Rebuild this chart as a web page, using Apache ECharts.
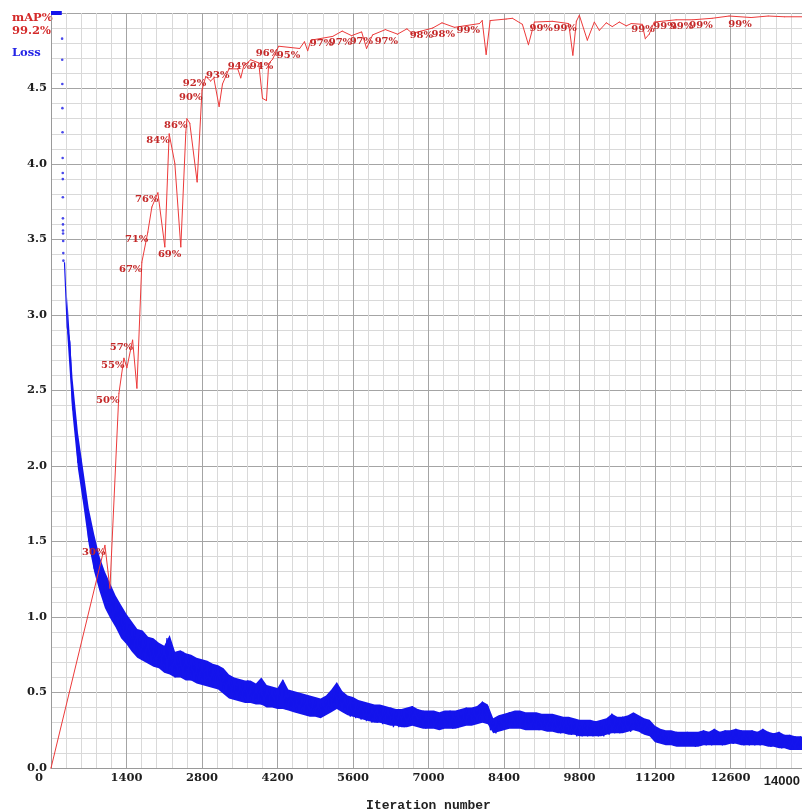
<!DOCTYPE html>
<html><head><meta charset="utf-8">
<script src="https://cdn.jsdelivr.net/npm/echarts@6.0.0/dist/echarts.min.js"></script>
<style>html,body{margin:0;padding:0;background:#fff;overflow:hidden}#c{width:802px;height:810px}</style>
</head><body><div id="c"></div>
<script>
// ---- data ----
const xMin = 0, xMax = 14000, xStep = 1400;
const yMin = 0, yMax = 5, yStep = 0.5;
const lastMap = '99.2%';

// mAP (%) checkpoints
const mapIter = [0,1000,1093,1259,1352,1407,1513,1593,1685,1796,1870,1982,2111,2191,2296,2407,2500,2520,2574,2710,2800,2870,2960,3019,3117,3180,3300,3463,3519,3574,3704,3852,3921,3995,4037,4111,4222,4611,4700,4760,4820,5223,5400,5574,5760,5852,5963,6200,6426,6600,6700,7075,7250,7482,7945,7995,8069,8143,8439,8556,8741,8853,8964,9297,9600,9677,9742,9797,9945,10075,10168,10297,10408,10538,10668,10760,10964,11020,11093,11186,11593,11900,12260,12575,12983,13300,13600,14000];
const mapVal = [0,29.5,23.8,49.6,54.3,53.0,56.7,50.3,67.0,71.0,74.3,76.2,69.0,84.0,80.1,69.0,84.2,86.0,85.4,77.6,89.8,91.6,91.0,91.4,87.6,90.6,92.6,92.6,91.4,93.0,93.8,93.4,88.7,88.4,93.3,93.9,95.6,95.3,96.2,95.0,96.4,96.9,97.6,97.0,97.5,95.3,97.1,97.8,97.2,97.9,97.3,98.0,98.7,98.1,98.6,99.0,94.5,99.0,99.2,99.3,98.5,95.8,98.8,98.9,98.6,94.4,98.9,99.7,96.4,98.8,97.7,98.7,98.2,98.8,98.3,98.6,98.5,96.6,97.2,98.8,99.1,99.1,99.3,99.6,99.4,99.6,99.5,99.5];
const mapLabels = ['','30%','','50%','55%','','57%','','67%','71%','','76%','','84%','','69%','','86%','','','90%','92%','','','','','93%','','','','94%','','','','','94%','96%','95%','','','','97%','','97%','','','97%','','97%','','','98%','','98%','99%','','','','','','','','','99%','','','99%','','','','','','','','','','','','','99%','99%','99%','99%','','99%','','',''];

// loss: clamped start, sparse early points
const lossTopIter = [0, 200];
const lossTopVal = [5, 5];
const lossEarlyIter = [206,208,210,212,214,216,218,219,220,221,222,223,224,226,228,230];
const lossEarlyVal = [4.83,4.69,4.53,4.37,4.21,4.04,3.94,3.90,3.78,3.64,3.60,3.56,3.54,3.49,3.41,3.36];

// loss band envelope, every 100 iterations from 300
const bandStart = 300, bandStep = 100;
const lossHi = [3.12,2.58,2.22,1.97,1.72,1.55,1.40,1.30,1.22,1.14,1.08,1.02,0.97,0.92,0.91,0.87,0.86,0.83,0.81,0.88,
 0.77,0.78,0.76,0.75,0.73,0.72,0.71,0.69,0.68,0.66,0.62,0.60,0.59,0.58,0.58,0.56,0.60,0.55,0.54,0.53,
 0.59,0.52,0.51,0.50,0.49,0.48,0.47,0.46,0.48,0.52,0.57,0.51,0.48,0.47,0.45,0.44,0.43,0.42,0.42,0.41,
 0.40,0.39,0.39,0.40,0.41,0.39,0.38,0.38,0.38,0.37,0.38,0.38,0.38,0.39,0.40,0.40,0.41,0.44,0.42,0.33,
 0.35,0.36,0.37,0.38,0.38,0.37,0.37,0.37,0.36,0.36,0.36,0.35,0.34,0.34,0.33,0.32,0.32,0.32,0.31,0.32,
 0.33,0.36,0.34,0.34,0.35,0.37,0.35,0.33,0.32,0.28,0.26,0.25,0.25,0.24,0.24,0.24,0.24,0.24,0.25,0.24,
 0.26,0.24,0.25,0.25,0.26,0.25,0.25,0.25,0.24,0.26,0.24,0.23,0.24,0.22,0.22,0.21,0.21,0.20];
const lossLo = [2.88,2.34,1.98,1.74,1.48,1.30,1.17,1.06,0.99,0.93,0.86,0.82,0.77,0.73,0.71,0.69,0.67,0.66,0.63,0.62,
 0.60,0.60,0.58,0.58,0.56,0.55,0.54,0.53,0.52,0.49,0.46,0.45,0.44,0.43,0.43,0.42,0.42,0.40,0.40,0.39,
 0.39,0.38,0.37,0.36,0.35,0.34,0.34,0.33,0.35,0.37,0.39,0.37,0.35,0.34,0.33,0.32,0.31,0.30,0.30,0.29,
 0.28,0.28,0.27,0.27,0.28,0.27,0.26,0.26,0.26,0.25,0.26,0.26,0.26,0.27,0.28,0.28,0.29,0.30,0.29,0.23,
 0.24,0.25,0.26,0.26,0.26,0.25,0.25,0.25,0.25,0.24,0.24,0.23,0.23,0.22,0.22,0.21,0.21,0.21,0.21,0.21,
 0.22,0.23,0.23,0.23,0.24,0.25,0.24,0.22,0.21,0.17,0.16,0.15,0.15,0.14,0.14,0.14,0.14,0.14,0.15,0.15,
 0.15,0.15,0.15,0.16,0.16,0.15,0.15,0.15,0.15,0.15,0.14,0.14,0.13,0.13,0.12,0.12,0.12,0.12];

// loss noise readings every 50 iterations from 250
const lossStart = 250, lossStep = 50;
const lossVals = [
 3.35,2.92,2.82,2.38,2.33,2.02,2.05,1.78,1.80,1.50,1.55,1.32,1.45,1.20,1.32,1.10,
 1.22,1.02,1.13,0.96,1.08,0.88,1.01,0.84,0.95,0.78,0.91,0.74,0.88,0.72,0.86,0.70,0.84,0.69,0.82,0.67,
 0.80,0.64,0.86,0.63,0.76,0.60,0.74,0.61,0.77,0.60,0.73,0.58,0.72,0.57,0.70,0.56,0.69,0.55,0.68,0.54,
 0.66,0.54,0.66,0.52,0.62,0.48,0.58,0.46,0.57,0.45,0.56,0.44,0.58,0.44,0.55,0.43,0.54,0.42,0.56,0.41,
 0.53,0.41,0.52,0.40,0.51,0.58,0.39,0.50,0.38,0.49,0.37,0.48,0.37,0.47,0.35,0.46,0.35,0.45,0.34,0.43,
 0.35,0.46,0.38,0.50,0.40,0.55,0.40,0.49,0.37,0.46,0.34,0.45,0.33,0.44,0.32,0.43,0.31,0.42,0.30,0.41,
 0.30,0.41,0.29,0.40,0.29,0.40,0.27,0.38,0.27,0.38,0.27,0.39,0.28,0.41,0.28,0.39,0.27,0.38,0.26,0.37,
 0.27,0.37,0.26,0.36,0.26,0.37,0.27,0.38,0.26,0.37,0.27,0.38,0.28,0.40,0.29,0.39,0.30,0.40,0.31,0.44,
 0.32,0.41,0.25,0.31,0.23,0.33,0.25,0.35,0.26,0.37,0.27,0.36,0.27,0.37,0.26,0.36,0.26,0.35,0.26,0.36,
 0.25,0.34,0.25,0.35,0.25,0.34,0.24,0.33,0.23,0.33,0.23,0.32,0.22,0.31,0.21,0.31,0.21,0.30,0.21,0.30,
 0.21,0.31,0.21,0.30,0.21,0.32,0.22,0.36,0.23,0.33,0.23,0.34,0.24,0.33,0.24,0.36,0.25,0.34,0.23,0.32,
 0.22,0.31,0.21,0.27,0.17,0.25,0.16,0.24,0.16,0.24,0.15,0.24,0.15,0.23,0.15,0.24,0.15,0.23,0.14,0.23,
 0.15,0.25,0.15,0.24,0.15,0.26,0.16,0.24,0.15,0.25,0.16,0.24,0.16,0.26,0.16,0.25,0.15,0.24,0.15,0.25,
 0.15,0.24,0.15,0.26,0.15,0.24,0.14,0.23,0.14,0.24,0.13,0.22,0.13,0.22,0.12,0.21,0.12,0.21,0.12,0.19
];

// ---- build ----
const blue = '#1414ec';
const lossData = lossVals.map((v, i) => [lossStart + i * lossStep, v]);
const bandIter = lossHi.map((v, i) => bandStart + i * bandStep);
const mapData = mapIter.map((x, i) => ({
  value: [x, mapVal[i]],
  label: { show: mapLabels[i] !== '', formatter: mapLabels[i] }
}));

const labelFont = { fontFamily: 'DejaVu Serif', fontWeight: 'bold', fontSize: 11.5, color: '#1e1e1e' };

const chart = echarts.init(document.getElementById('c'), null, { renderer: 'canvas' });
chart.setOption({
  animation: false,
  backgroundColor: '#ffffff',
  grid: { left: 51, top: 13, width: 755, bottom: 42, containLabel: false, outerBoundsMode: 'none' },
  xAxis: {
    type: 'value', min: xMin, max: xMax, interval: xStep,
    name: 'Iteration number', nameLocation: 'middle', nameGap: 31,
    nameTextStyle: { fontFamily: 'Liberation Mono', fontWeight: 'bold', fontSize: 13, color: '#222' },
    axisLine: { show: true, lineStyle: { color: '#9a9a9a', width: 1 } },
    axisTick: { show: false },
    minorTick: { show: false, splitNumber: 5 },
    splitLine: { show: true, lineStyle: { color: '#a4a4a4', width: 1 } },
    minorSplitLine: { show: true, lineStyle: { color: '#d9d9d9', width: 1 } },
    axisLabel: Object.assign({}, labelFont, {
      margin: 4, alignMinLabel: 'right', alignMaxLabel: 'right',
      formatter: v => v === xMax ? '{m|' + v + '}' : (v === xMin ? '{z|' + v + '}' : String(v)),
      rich: {
        m: { fontFamily: 'Liberation Sans', fontWeight: 'bold', fontSize: 13, color: '#1e1e1e', padding: [3, 6, 0, 0] },
        z: { fontFamily: 'DejaVu Serif', fontWeight: 'bold', fontSize: 11.5, color: '#1e1e1e', padding: [0, 8, 0, 0] }
      }
    })
  },
  yAxis: [{
    type: 'value', min: yMin, max: yMax, interval: yStep,
    axisLine: { show: true, lineStyle: { color: '#9a9a9a', width: 1 } },
    axisTick: { show: false },
    minorTick: { show: false, splitNumber: 5 },
    splitLine: { show: true, lineStyle: { color: '#a4a4a4', width: 1 } },
    minorSplitLine: { show: true, lineStyle: { color: '#d9d9d9', width: 1 } },
    axisLabel: Object.assign({}, labelFont, { margin: 4, showMaxLabel: false, formatter: v => v.toFixed(1) })
  }, {
    type: 'value', min: 0, max: 100, show: false, splitLine: { show: false }
  }],
  graphic: [
    { type: 'text', left: 12, top: 12, style: { text: 'mAP%', fill: '#d42a2a', font: 'bold 11.5px "DejaVu Serif"' } },
    { type: 'text', left: 12, top: 25, style: { text: lastMap, fill: '#d42a2a', font: 'bold 11.5px "DejaVu Serif"' } },
    { type: 'text', left: 12, top: 47, style: { text: 'Loss', fill: '#2424e6', font: 'bold 11.5px "DejaVu Serif"' } }
  ],
  series: [
    {
      type: 'line', data: lossTopIter.map((x, i) => [x, lossTopVal[i]]),
      showSymbol: false, clip: false, silent: true,
      lineStyle: { color: blue, width: 4 }, z: 2
    },
    {
      type: 'scatter', data: lossEarlyIter.map((x, i) => [x, lossEarlyVal[i]]),
      symbolSize: 2.6, itemStyle: { color: '#1c1ce6' }, silent: true, z: 2
    },
    {
      type: 'custom', coordinateSystem: 'cartesian2d', silent: true, z: 2,
      data: [[bandIter[0], lossLo[0]]],
      renderItem: (params, api) => {
        const pts = [];
        for (let i = 0; i < bandIter.length; i++) pts.push(api.coord([bandIter[i], lossHi[i]]));
        for (let i = bandIter.length - 1; i >= 0; i--) pts.push(api.coord([bandIter[i], lossLo[i]]));
        return { type: 'polygon', shape: { points: pts }, style: { fill: blue } };
      }
    },
    {
      type: 'line', data: lossData, showSymbol: false, sampling: null, silent: true,
      lineStyle: { color: blue, width: 1.2 }, z: 3
    },
    {
      type: 'line', yAxisIndex: 1, data: mapData,
      showSymbol: true, symbol: 'circle', symbolSize: 1, silent: true,
      itemStyle: { color: '#ec3a3a' },
      lineStyle: { color: '#ec3a3a', width: 1 },
      label: {
        position: 'left', distance: 0, offset: [1, 7],
        fontFamily: 'DejaVu Serif', fontWeight: 'bold', fontSize: 10, color: '#c42828'
      },
      z: 5
    }
  ]
});
</script>
</body></html>
